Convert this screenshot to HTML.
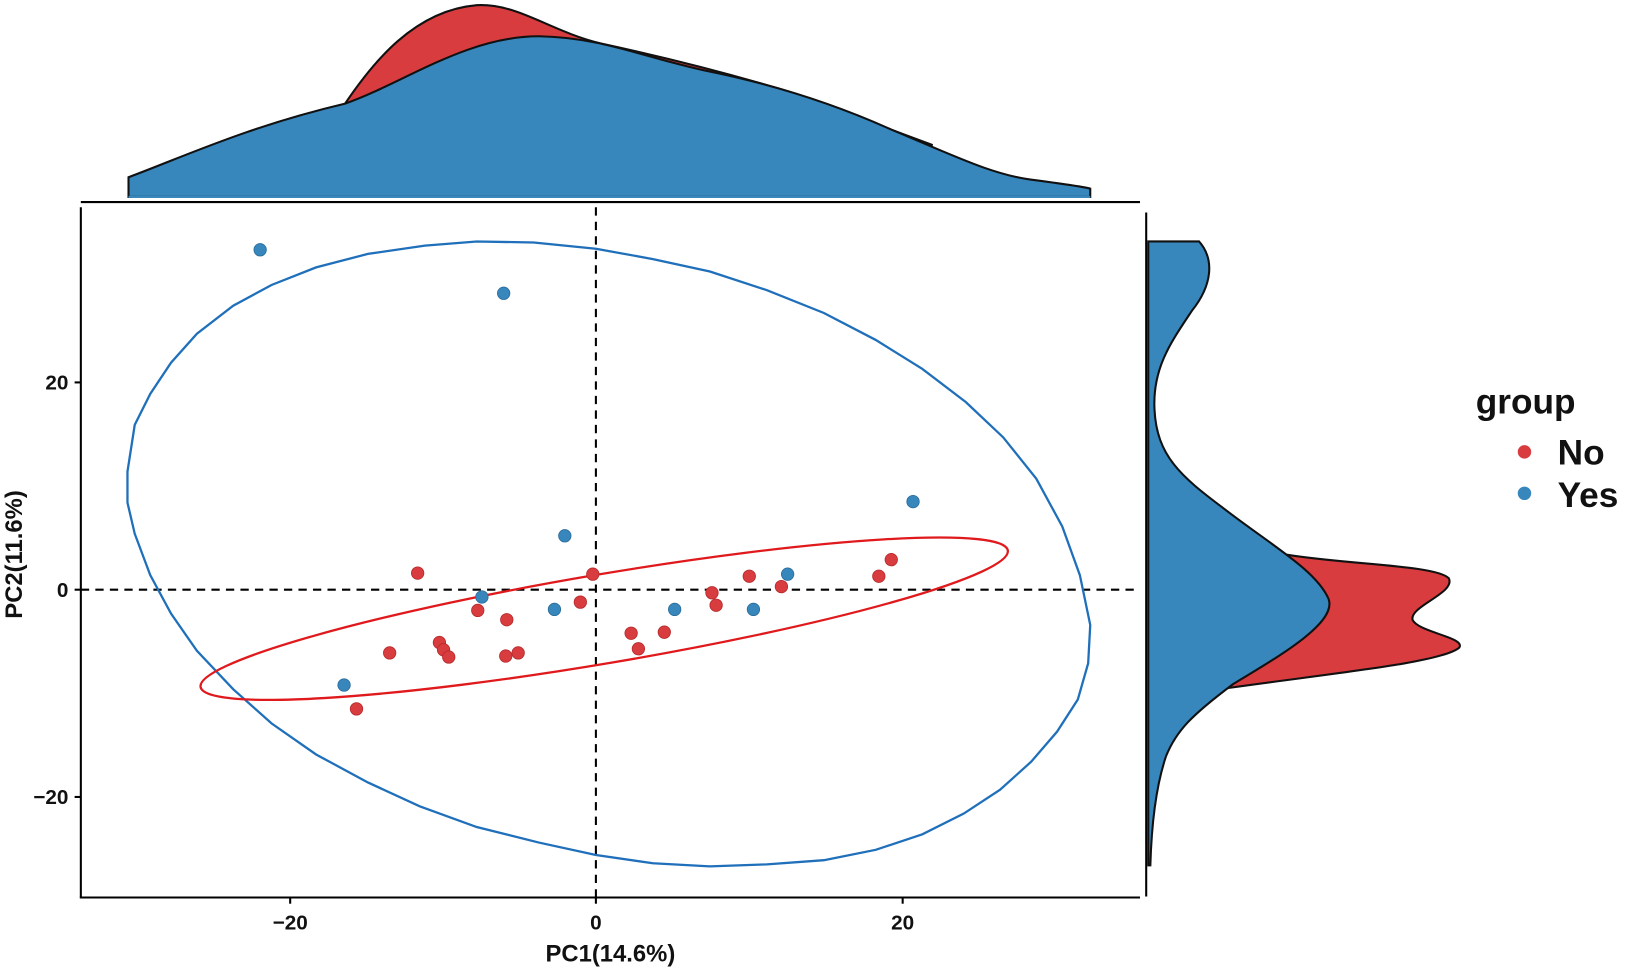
<!DOCTYPE html>
<html><head><meta charset="utf-8"><style>html,body{margin:0;padding:0;background:#fff}svg{display:block}</style></head>
<body>
<svg width="1625" height="969" viewBox="0 0 1568 935" preserveAspectRatio="none" font-family="Liberation Sans, sans-serif" font-weight="bold">
<rect width="1568" height="935" fill="#fff"/>
<!-- top density -->
<path d="M333,100 C360,60 400,10 460,5 C500,3 530,30 580,42 C640,55 700,70 760,88 C820,110 860,125 900,140 L333,100 Z" fill="#d93c3e" stroke="#111" stroke-width="2"/>
<path d="M124,171 C180,150 240,122 333,100 C390,80 450,35 520,35 C580,36 620,55 680,68 C740,80 800,98 860,125 C920,150 960,170 1000,174 C1030,178 1045,180 1052,182 L1052,190 L124,190 Z" fill="#3787bd" stroke="#111" stroke-width="2"/>
<path d="M124,190 L1052,190" stroke="#3787bd" stroke-width="2"/>
<line x1="78" y1="195" x2="1100" y2="195" stroke="#000" stroke-width="2"/>
<!-- right density -->
<path d="M1240,535 C1300,545 1385,545 1398,558 C1405,572 1360,585 1363,598 C1368,610 1415,615 1408,625 C1390,640 1280,650 1170,666 L1240,535 Z" fill="#d93c3e" stroke="#111" stroke-width="2"/>
<path d="M1108,233 L1157,233 C1172,250 1170,275 1150,300 C1130,330 1112,355 1114,395 C1116,440 1140,460 1180,490 C1225,525 1270,550 1282,578 C1290,600 1240,630 1190,660 C1150,690 1135,705 1125,730 C1115,760 1111,800 1110,835 L1108,835 Z" fill="#3787bd" stroke="#111" stroke-width="2"/>
<line x1="1106" y1="205" x2="1106" y2="865" stroke="#000" stroke-width="2"/>
<!-- main axes -->
<line x1="78" y1="200" x2="78" y2="866" stroke="#000" stroke-width="2"/>
<line x1="77" y1="866" x2="1100" y2="866" stroke="#000" stroke-width="2"/>
<g stroke="#000" stroke-width="2"><line x1="72" y1="369" x2="78" y2="369"/><line x1="72" y1="569" x2="78" y2="569"/><line x1="72" y1="769" x2="78" y2="769"/>
<line x1="280" y1="866" x2="280" y2="872"/><line x1="575" y1="866" x2="575" y2="872"/><line x1="871" y1="866" x2="871" y2="872"/></g>
<g font-size="20" fill="#111" text-anchor="end"><text x="66" y="376">20</text><text x="66" y="576">0</text><text x="66" y="776">−20</text></g>
<g font-size="20" fill="#111" text-anchor="middle"><text x="280" y="897">−20</text><text x="575" y="897">0</text><text x="871" y="897">20</text></g>
<text x="589" y="928" font-size="23" text-anchor="middle" fill="#111">PC1(14.6%)</text>
<text transform="translate(21,535) rotate(-90)" font-size="23" text-anchor="middle" fill="#111">PC2(11.6%)</text>
<!-- dashed -->
<line x1="575" y1="200" x2="575" y2="866" stroke="#000" stroke-width="2" stroke-dasharray="8,6"/>
<line x1="78" y1="569" x2="1100" y2="569" stroke="#000" stroke-width="2" stroke-dasharray="8,6"/>
<!-- ellipses -->
<polygon points="123,455 130,410 145,380 165,350 190,322 225,295 262,275 305,258 355,245 410,237 460,233 515,234 575,240 630,250 685,262 740,280 795,302 845,328 890,356 932,388 968,422 1000,462 1025,508 1042,555 1052,603 1050,640 1040,675 1020,706 995,735 965,762 930,785 890,805 845,820 795,830 740,834 685,836 630,833 575,825 520,813 460,798 405,778 355,755 305,728 262,698 225,665 190,628 165,592 145,555 130,515 123,485" fill="none" stroke="#1f6fba" stroke-width="2.2"/>
<ellipse cx="583" cy="597" rx="395" ry="43" transform="rotate(-9.6 583 597)" fill="none" stroke="#e0191c" stroke-width="2.2"/>
<!-- points -->
<g fill="#d93c3e" stroke="#b52a2c" stroke-width="0.8">
<circle cx="403" cy="553" r="6"/><circle cx="572" cy="554" r="6"/><circle cx="560" cy="581" r="6"/><circle cx="461" cy="589" r="6"/><circle cx="489" cy="598" r="6"/><circle cx="376" cy="630" r="6"/><circle cx="424" cy="620" r="6"/><circle cx="428" cy="627" r="6"/><circle cx="433" cy="634" r="6"/><circle cx="488" cy="633" r="6"/><circle cx="500" cy="630" r="6"/><circle cx="609" cy="611" r="6"/><circle cx="616" cy="626" r="6"/><circle cx="641" cy="610" r="6"/><circle cx="687" cy="572" r="6"/><circle cx="691" cy="584" r="6"/><circle cx="723" cy="556" r="6"/><circle cx="754" cy="566" r="6"/><circle cx="848" cy="556" r="6"/><circle cx="860" cy="540" r="6"/><circle cx="344" cy="684" r="6"/>
</g>
<g fill="#3787bd" stroke="#2a6b99" stroke-width="0.8">
<circle cx="251" cy="241" r="6"/><circle cx="486" cy="283" r="6"/><circle cx="545" cy="517" r="6"/><circle cx="465" cy="576" r="6"/><circle cx="535" cy="588" r="6"/><circle cx="651" cy="588" r="6"/><circle cx="727" cy="588" r="6"/><circle cx="760" cy="554" r="6"/><circle cx="881" cy="484" r="6"/><circle cx="332" cy="661" r="6"/>
</g>
<!-- legend -->
<text x="1424" y="399" font-size="34" fill="#111">group</text>
<circle cx="1471" cy="436" r="6.5" fill="#d93c3e"/>
<circle cx="1471" cy="476" r="6.5" fill="#3787bd"/>
<text x="1503" y="448" font-size="34" fill="#111">No</text>
<text x="1503" y="489" font-size="34" fill="#111">Yes</text>
</svg>
</body></html>
